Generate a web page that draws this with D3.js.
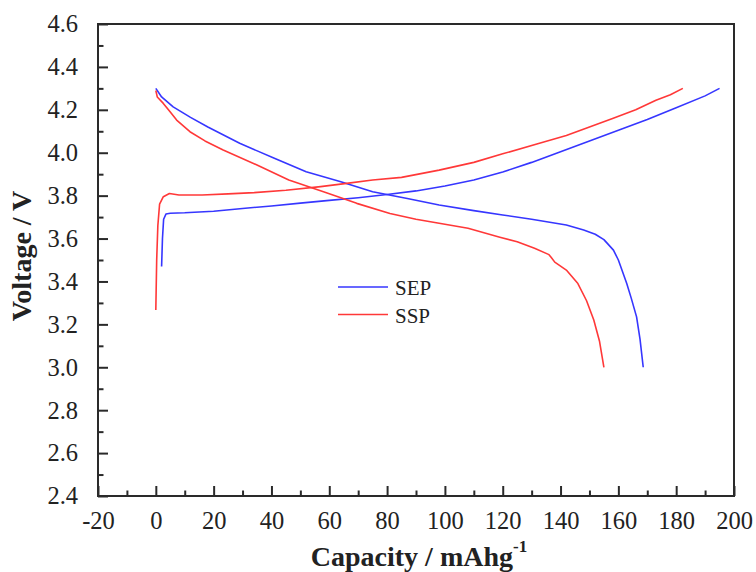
<!DOCTYPE html>
<html>
<head>
<meta charset="utf-8">
<script src="https://cdn.jsdelivr.net/npm/d3@7"></script>
<style>
  html, body { margin: 0; padding: 0; background: #fff; }
  svg { display: block; }
  text { font-family: "Liberation Serif", "Times New Roman", serif; fill: #222; }
</style>
</head>
<body>
<div id="chart"></div>
<script>
// ---- data ----
const xTicks = [-20, 0, 20, 40, 60, 80, 100, 120, 140, 160, 180, 200];
const yTicks = [2.4, 2.6, 2.8, 3.0, 3.2, 3.4, 3.6, 3.8, 4.0, 4.2, 4.4, 4.6];

const sepChargeCap = [2, 2.3, 2.7, 3.5, 5, 10, 20, 30, 40, 50, 60, 70, 80, 90, 100, 110, 120, 130, 140, 150, 160, 170, 180, 190, 195];
const sepChargeV   = [3.47, 3.60, 3.69, 3.714, 3.718, 3.72, 3.727, 3.74, 3.752, 3.765, 3.778, 3.79, 3.805, 3.822, 3.845, 3.873, 3.91, 3.955, 4.005, 4.055, 4.105, 4.155, 4.21, 4.265, 4.30];

const sepDisCap = [0, 2, 6, 12, 18, 29, 41, 52, 64, 75, 87, 98, 110, 120, 130, 142, 148, 152, 155, 158.3, 160, 162.9, 164.5, 166.3, 167.5, 168.6];
const sepDisV   = [4.30, 4.26, 4.214, 4.165, 4.12, 4.044, 3.974, 3.911, 3.865, 3.818, 3.787, 3.756, 3.73, 3.71, 3.69, 3.663, 3.64, 3.62, 3.595, 3.546, 3.50, 3.39, 3.32, 3.235, 3.13, 3.00];

const sspChargeCap = [0, 0.3, 0.7, 1.3, 2.6, 4.7, 8, 16, 25, 34, 45, 57, 66, 75, 85, 98, 110, 120, 133, 142, 150, 158, 166, 173, 178, 182.3];
const sspChargeV   = [3.267, 3.50, 3.66, 3.76, 3.795, 3.81, 3.803, 3.803, 3.808, 3.814, 3.825, 3.842, 3.857, 3.873, 3.885, 3.919, 3.955, 3.995, 4.045, 4.08, 4.12, 4.16, 4.20, 4.245, 4.27, 4.30];

const sspDisCap = [0, 0.5, 2.6, 5, 7.2, 11.8, 17, 23.3, 35, 46, 58, 69.5, 81, 90, 98, 108, 119, 125, 131, 136, 136.8, 138, 142, 146, 149, 151.5, 153.5, 155];
const sspDisV   = [4.29, 4.26, 4.23, 4.19, 4.152, 4.098, 4.055, 4.013, 3.943, 3.873, 3.818, 3.764, 3.717, 3.69, 3.671, 3.648, 3.606, 3.585, 3.555, 3.525, 3.512, 3.49, 3.453, 3.39, 3.31, 3.22, 3.12, 3.00];

const seriesNames = ["SEP", "SSP"];
const seriesColors = ["#3636ff", "#ff3838"];

// ---- layout ----
const W = 756, H = 572;
const L = 98, R = 734, T = 24, B = 496;

const svg = d3.select("#chart").append("svg").attr("width", W).attr("height", H);

const x = d3.scaleLinear().domain([-20, 200]).range([L, R]);
const y = d3.scaleLinear().domain([2.4, 4.6]).range([B, T]);

const frameColor = "#2a2a2a";

// frame
svg.append("rect").attr("x", L).attr("y", T).attr("width", R - L).attr("height", B - T)
  .attr("fill", "none").attr("stroke", frameColor).attr("stroke-width", 2);

// minor ticks values
const xMinor = d3.range(-10, 200, 20);
const yMinor = d3.range(2.5, 4.6, 0.2);

// bottom axis
const xAxis = svg.append("g").attr("transform", `translate(0,${B})`)
  .call(d3.axisBottom(x).tickValues(xTicks).tickSizeInner(-10).tickSizeOuter(0).tickPadding(16)
    .tickFormat(d => String(d)));
xAxis.attr("font-family", null);
xAxis.select(".domain").remove();
xAxis.selectAll(".tick line").attr("stroke", frameColor).attr("stroke-width", 2);
xAxis.selectAll("text").attr("font-size", 24.5).attr("fill", "#222")
  .style("font-family", '"Liberation Serif", serif');
const xAxisMinor = svg.append("g").attr("transform", `translate(0,${B})`)
  .call(d3.axisBottom(x).tickValues(xMinor).tickSizeInner(-5.5).tickSizeOuter(0).tickFormat(""));
xAxisMinor.select(".domain").remove();
xAxisMinor.selectAll(".tick line").attr("stroke", frameColor).attr("stroke-width", 2);

// left axis
const yAxis = svg.append("g").attr("transform", `translate(${L},0)`)
  .call(d3.axisLeft(y).tickValues(yTicks).tickSizeInner(-10).tickSizeOuter(0).tickPadding(20)
    .tickFormat(d3.format(".1f")));
yAxis.attr("font-family", null);
yAxis.select(".domain").remove();
yAxis.selectAll(".tick line").attr("stroke", frameColor).attr("stroke-width", 2);
yAxis.selectAll("text").attr("font-size", 24.5).attr("fill", "#222")
  .style("font-family", '"Liberation Serif", serif');
const yAxisMinor = svg.append("g").attr("transform", `translate(${L},0)`)
  .call(d3.axisLeft(y).tickValues(yMinor).tickSizeInner(-5.5).tickSizeOuter(0).tickFormat(""));
yAxisMinor.select(".domain").remove();
yAxisMinor.selectAll(".tick line").attr("stroke", frameColor).attr("stroke-width", 2);

// axis titles
svg.append("text")
  .attr("transform", `translate(31,256) rotate(-90)`)
  .attr("text-anchor", "middle").attr("font-size", 28).attr("font-weight", "bold")
  .text("Voltage / V");

const xt = svg.append("text").attr("x", (L + R) / 2 + 3).attr("y", 566)
  .attr("text-anchor", "middle").attr("font-size", 28).attr("font-weight", "bold");
xt.append("tspan").text("Capacity / mAhg");
xt.append("tspan").attr("dy", -14).attr("font-size", 17).text("-1");

// curves
const line = d3.line().x(d => x(d[0])).y(d => y(d[1]));
const zip = (a, b) => a.map((v, i) => [v, b[i]]);

const curves = [
  { pts: zip(sepChargeCap, sepChargeV), color: seriesColors[0] },
  { pts: zip(sepDisCap, sepDisV), color: seriesColors[0] },
  { pts: zip(sspChargeCap, sspChargeV), color: seriesColors[1] },
  { pts: zip(sspDisCap, sspDisV), color: seriesColors[1] }
];
svg.append("g").selectAll("path").data(curves).join("path")
  .attr("d", d => line(d.pts))
  .attr("fill", "none").attr("stroke", d => d.color).attr("stroke-width", 1.6)
  .attr("stroke-linejoin", "round");

// legend
const leg = svg.append("g");
seriesNames.forEach((name, i) => {
  const ly = 287 + i * 27.5;
  leg.append("line").attr("x1", 338).attr("x2", 388).attr("y1", ly).attr("y2", ly)
    .attr("stroke", seriesColors[i]).attr("stroke-width", 1.6);
  leg.append("text").attr("x", 395).attr("y", ly + 8).attr("font-size", 21).text(name);
});
</script>
</body>
</html>
